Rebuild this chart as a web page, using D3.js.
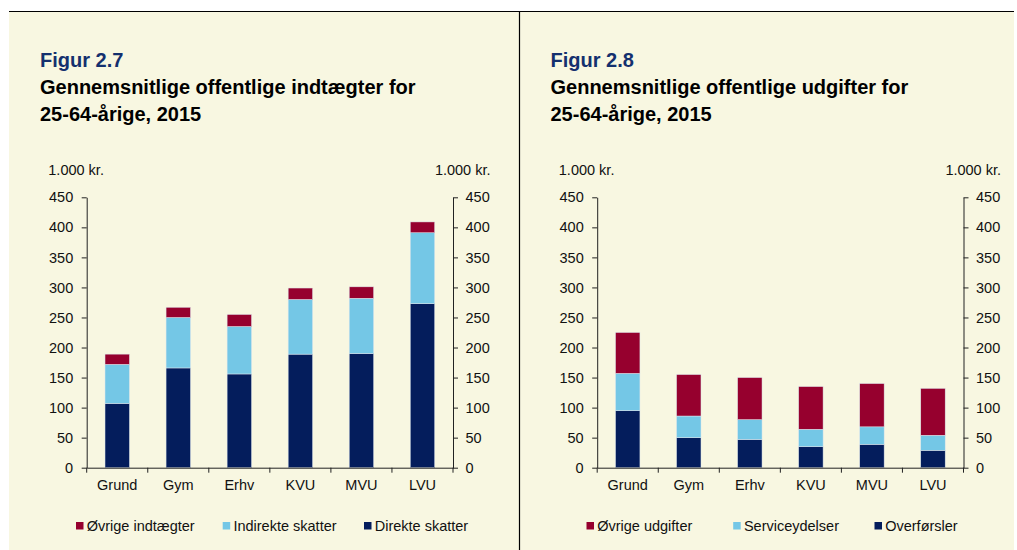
<!DOCTYPE html>
<html>
<head>
<meta charset="utf-8">
<title>Figur 2.7 og 2.8</title>
<script src="https://cdn.jsdelivr.net/npm/d3@7/dist/d3.min.js"></script>
<style>
  body { margin: 0; background: #fff; }
  text { font-family: "Liberation Sans", Arial, sans-serif; }
</style>
</head>
<body>
<script>
// kategorier og værdier (1.000 kr.)
var categories = ['Grund', 'Gym', 'Erhv', 'KVU', 'MVU', 'LVU'];
var direkteSkatter   = [107, 166, 156, 189, 190, 273];
var indirekteSkatter = [65, 84, 79, 91, 92, 118];
var ovrigeIndtaegter = [17, 17, 20, 19, 19, 18];
var overforsler      = [95, 50, 47, 35, 39, 29];
var serviceydelser   = [62, 36, 33, 29, 29, 25];
var ovrigeUdgifter   = [68, 69, 70, 71, 72, 78];
var yTicks = [0, 50, 100, 150, 200, 250, 300, 350, 400, 450];

var navy = '#041d5c', lightBlue = '#74c7e6', maroon = '#96002e';

var svg = d3.select('body').append('svg')
    .attr('width', 1017)
    .attr('height', 550);

// baggrund og rammer
svg.append('rect').attr('x', 9).attr('y', 11).attr('width', 1005).attr('height', 539)
    .attr('fill', '#f8f7e1');
svg.append('line').attr('x1', 9).attr('x2', 1014).attr('y1', 11.5).attr('y2', 11.5)
    .attr('stroke', '#000').attr('stroke-width', 1);
svg.append('line').attr('x1', 519.5).attr('x2', 519.5).attr('y1', 11).attr('y2', 550)
    .attr('stroke', '#000').attr('stroke-width', 1.2);

function drawPanel(ox, title, subtitle, series) {
    var g = svg.append('g');

    g.append('text').attr('x', ox).attr('y', 67)
        .attr('font-size', 20).attr('font-weight', 'bold').attr('fill', '#14306e')
        .text(title);
    subtitle.forEach(function (line, i) {
        g.append('text').attr('x', ox).attr('y', 94 + i * 27)
            .attr('font-size', 20).attr('font-weight', 'bold').attr('fill', '#000')
            .text(line);
    });

    var left = ox + 46.7, w = 366.3, top = 197.3, bottom = 467.7;
    var x = d3.scaleBand().domain(categories).range([left, left + w])
        .paddingInner(0.6).paddingOuter(0.3);
    var y = d3.scaleLinear().domain([0, 450]).range([bottom, top]);

    var rows = categories.map(function (c, i) {
        var r = { cat: c };
        series.forEach(function (s) { r[s.name] = s.values[i]; });
        return r;
    });
    var stacked = d3.stack().keys(series.map(function (s) { return s.name; }))(rows);

    g.selectAll('g.layer').data(stacked).enter().append('g')
        .attr('fill', function (d, i) { return series[i].color; })
        .selectAll('rect').data(function (d) { return d; }).enter().append('rect')
        .attr('x', function (d) { return x(d.data.cat); })
        .attr('width', x.bandwidth())
        .attr('y', function (d) { return y(d[1]); })
        .attr('height', function (d) { return y(d[0]) - y(d[1]); })
        .attr('stroke', '#dde6ee').attr('stroke-width', 0.5);

    // y-akser
    var axL = g.append('g').attr('transform', 'translate(' + left + ',0)')
        .call(d3.axisLeft(y).tickValues(yTicks).tickSize(5).tickSizeOuter(0).tickPadding(8.5));
    var axR = g.append('g').attr('transform', 'translate(' + (left + w) + ',0)')
        .call(d3.axisRight(y).tickValues(yTicks).tickSize(5).tickSizeOuter(0).tickPadding(7.5));
    [axL, axR].forEach(function (a) {
        a.selectAll('text').attr('font-size', 14.5).attr('fill', '#111')
            .attr('font-family', '"Liberation Sans", Arial, sans-serif');
        a.selectAll('line, path').attr('stroke', '#222');
    });

    // x-akse med streger mellem kategorierne
    var axB = g.append('g').attr('transform', 'translate(0,' + bottom + ')')
        .call(d3.axisBottom(x).tickSize(0).tickPadding(12.5));
    axB.select('.domain').attr('stroke', '#222');
    axB.selectAll('text').attr('font-size', 14.5).attr('fill', '#111')
        .attr('font-family', '"Liberation Sans", Arial, sans-serif');
    var bounds = categories.map(function (c) { return x(c) - x.step() * x.paddingOuter(); });
    bounds.push(left + w);
    axB.selectAll('line.sep').data(bounds).enter().append('line')
        .attr('x1', function (d) { return d; }).attr('x2', function (d) { return d; })
        .attr('y1', 0).attr('y2', 5).attr('stroke', '#222');

    g.append('text').attr('x', ox + 8.3).attr('y', 175).attr('font-size', 14.5).attr('fill', '#111')
        .text('1.000 kr.');
    g.append('text').attr('x', left + w + 37.5).attr('y', 175).attr('font-size', 14.5)
        .attr('fill', '#111').attr('text-anchor', 'end').text('1.000 kr.');

    // signatur (omvendt rækkefølge)
    var legendItems = series.slice().reverse();
    var lx = [ox + 36, ox + 182.7, ox + 324];
    legendItems.forEach(function (s, i) {
        g.append('rect').attr('x', lx[i]).attr('y', 522).attr('width', 7.5).attr('height', 7.5)
            .attr('fill', s.color);
        g.append('text').attr('x', lx[i] + 10.7).attr('y', 531).attr('font-size', 14.5)
            .attr('fill', '#111').text(s.name);
    });
}

drawPanel(40, 'Figur 2.7', ['Gennemsnitlige offentlige indtægter for', '25-64-årige, 2015'], [
    { name: 'Direkte skatter', values: direkteSkatter, color: navy },
    { name: 'Indirekte skatter', values: indirekteSkatter, color: lightBlue },
    { name: 'Øvrige indtægter', values: ovrigeIndtaegter, color: maroon }
]);
drawPanel(550.5, 'Figur 2.8', ['Gennemsnitlige offentlige udgifter for', '25-64-årige, 2015'], [
    { name: 'Overførsler', values: overforsler, color: navy },
    { name: 'Serviceydelser', values: serviceydelser, color: lightBlue },
    { name: 'Øvrige udgifter', values: ovrigeUdgifter, color: maroon }
]);
</script>
</body>
</html>
